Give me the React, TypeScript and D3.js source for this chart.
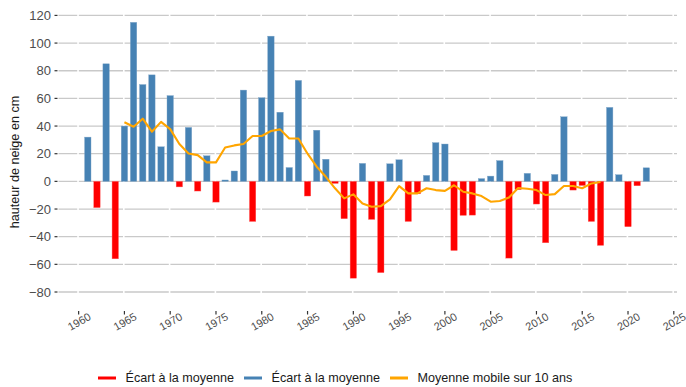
import React from "react";
import * as d3 from "d3";

const years: number[] = d3.range(1961, 2023);
const deviations: number[] = [
  32, -19, 85, -56, 40, 115, 70, 77, 25, 62, // 1961-1970
  -4, 39, -7, 18.5, -15, 1, 7.5, 66, -29, 60.5, // 1971-1980
  105, 50, 10, 73, -10.6, 37, 16, -1.5, -27, -70, // 1981-1990
  13, -27.5, -66, 12.7, 15.6, -29, -9, 4.3, 28, 27, // 1991-2000
  -50, -24.6, -24.4, 2, 3.8, 15, -55.5, -6, 5.8, -16.4, // 2001-2010
  -44.4, 5, 46.7, -6.3, -3, -29, -46.3, 53.5, 4.8, -32.8, // 2011-2020
  -3.2, 9.8, // 2021-2022
];
const maYears: number[] = d3.range(1965, 2018);
const movingAvg: number[] = [
  42.7, 39.5, 45.3, 35.9, 43, 37.8, 27, 20.2, 19, 13.7, // 1965-1974
  13.7, 24.5, 26, 27, 32.8, 32.8, 36.4, 37.6, 31, 31, // 1975-1984
  20, 10.6, 3.3, -5, -12.3, -9.4, -16, -18.3, -17.9, -13, // 1985-1994
  -3.4, -8.7, -8.7, -5, -6.3, -6.9, -2.8, -7.5, -8.7, -10.6, // 1995-2004
  -14.7, -14.2, -11.6, -4.8, -5.3, -6.3, -9.9, -9.2, -3.4, -3.4, // 2005-2014
  -5, -1.5, -0.5, // 2015-2017
];
const yTicks: number[] = [-80, -60, -40, -20, 0, 20, 40, 60, 80, 100, 120];
const xTicks: number[] = d3.range(1960, 2026, 5);
const legendLabels: string[] = ["Écart à la moyenne", "Écart à la moyenne", "Moyenne mobile sur 10 ans"];
const legendColors: string[] = ["#FF0000", "#4682B4", "#FFA500"];

const W = 686;
const H = 387;
const FONT = "'Liberation Sans', Arial, Helvetica, sans-serif";

export default function App() {
  const x = d3.scaleLinear().domain([1957.8, 2025.35]).range([58.5, 677]);
  const y = d3.scaleLinear().domain([-92, 125]).range([308.6, 8.5]);
  const bw = 6.4;
  const line = d3
    .line<number>()
    .x((_, i) => x(maYears[i]))
    .y((d) => y(d));

  const legendX = [98, 244, 390];

  return (
    <svg
      width={W}
      height={H}
      style={{ position: "fixed", left: 0, top: 0, background: "#fff" }}
      fontFamily={FONT}
    >
      <rect x={0} y={0} width={W} height={H} fill="#fff" />
      {/* horizontal grid */}
      {yTicks.map((t) => (
        <line key={"g" + t} x1={58.5} x2={677} y1={y(t)} y2={y(t)} stroke="#c9c9c9" strokeWidth={1.3} />
      ))}
      {/* white vertical breaks */}
      {xTicks.map((t) => (
        <line key={"v" + t} x1={x(t) - 0.6} x2={x(t) - 0.6} y1={8} y2={309} stroke="#fff" strokeWidth={1.6} />
      ))}
      {/* y ticks and labels */}
      {yTicks.map((t) => (
        <g key={"yt" + t}>
          <line x1={54.5} x2={57.5} y1={y(t)} y2={y(t)} stroke="#333" strokeWidth={1.2} />
          <text x={51} y={y(t)} dy="0.36em" textAnchor="end" fontSize={13} fill="#4d4d4d">
            {t < 0 ? "\u2212" + Math.abs(t) : String(t)}
          </text>
        </g>
      ))}
      {/* x ticks and labels */}
      {xTicks.map((t) => (
        <g key={"xt" + t}>
          <line x1={x(t)} x2={x(t)} y1={311} y2={314.5} stroke="#333" strokeWidth={1.2} />
          <text
            transform={`translate(${x(t) + 2.5},${325}) rotate(-30)`}
            textAnchor="middle"
            fontSize={11}
            fill="#4d4d4d"
          >
            {t}
          </text>
        </g>
      ))}
      {/* bars */}
      {deviations.map((v, i) => (
        <rect
          key={"b" + i}
          x={x(years[i]) - bw / 2}
          y={v >= 0 ? y(v) : y(0)}
          width={bw}
          height={Math.abs(y(v) - y(0))}
          fill={v >= 0 ? "#4682B4" : "#FF0000"}
          stroke={v >= 0 ? "#7fa6c8" : "#ff6666"}
          strokeWidth={0.4}
        />
      ))}
      {/* moving average */}
      <path d={line(movingAvg) || ""} fill="none" stroke="#FFA500" strokeWidth={2.1} strokeLinejoin="round" />
      {/* y title */}
      <text
        transform={`translate(${18.5},${162}) rotate(-90)`}
        textAnchor="middle"
        fontSize={12.6}
        fill="#1a1a1a"
      >
        hauteur de neige en cm
      </text>
      {/* legend */}
      {legendLabels.map((l, i) => (
        <g key={"l" + i}>
          <line x1={legendX[i]} x2={legendX[i] + 18} y1={378} y2={378} stroke={legendColors[i]} strokeWidth={3} />
          <text x={legendX[i] + 27.5} y={378} dy="0.35em" fontSize={12.6} fill="#1a1a1a">
            {l}
          </text>
        </g>
      ))}
    </svg>
  );
}
